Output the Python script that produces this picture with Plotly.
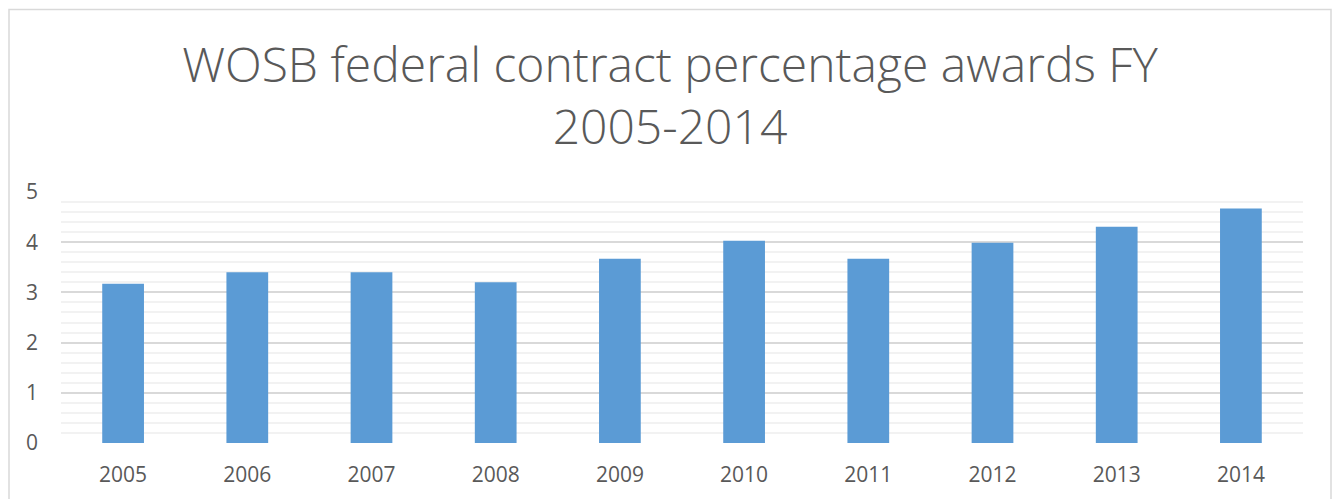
import plotly.graph_objects as go

# Fiscal years and WOSB share of federal contract awards (%)
years = ["2005", "2006", "2007", "2008", "2009", "2010", "2011", "2012", "2013", "2014"]
award_pct = [3.17, 3.40, 3.40, 3.20, 3.67, 4.03, 3.67, 3.99, 4.31, 4.67]
y_ticks = [0, 1, 2, 3, 4, 5]

W, H = 1335, 499
L, R, T, B = 61, 32, 192, 56
plot_w = W - L - R
plot_h = H - T - B

BAR = "#5B9BD5"
TEXT = "#595959"
MAJOR = "#D9D9D9"
MINOR = "#F2F2F2"

fig = go.Figure(
    go.Bar(
        x=years,
        y=award_pct,
        marker=dict(color=BAR, line=dict(width=0)),
        hoverinfo="x+y",
    )
)

# chart frame drawn in pixel terms, converted to paper coordinates
def px_x(p):
    return (p - L) / plot_w

def px_y(p):
    return (H - B - p) / plot_h

fig.add_shape(
    type="rect", xref="paper", yref="paper",
    x0=px_x(9), x1=px_x(1331), y0=px_y(520), y1=px_y(9.5),
    line=dict(color="#D9D9D9", width=1.5), fillcolor="rgba(0,0,0,0)", layer="below",
)

fig.update_layout(
    width=W, height=H,
    margin=dict(l=L, r=R, t=T, b=B, pad=0),
    paper_bgcolor="white", plot_bgcolor="white",
    bargap=0.664,
    showlegend=False,
    title=dict(
        text="WOSB federal contract percentage awards FY<br>2005-2014",
        x=670 / W, xref="container", xanchor="center",
        y=1 - 82 / H, yref="container", yanchor="top",
        font=dict(family="Open Sans", size=48, color=TEXT, weight=300),
    ),
    font=dict(family="Open Sans", color=TEXT),
    xaxis=dict(
        showgrid=False, zeroline=False, showline=False,
        ticks="", ticklabelstandoff=17,
        tickfont=dict(size=21, color=TEXT),
    ),
    yaxis=dict(
        range=[0, 5], tickvals=y_ticks, ticktext=[str(v) for v in y_ticks],
        showgrid=True, gridcolor=MAJOR, gridwidth=1.5,
        minor=dict(dtick=0.2, showgrid=True, gridcolor=MINOR, gridwidth=1.5),
        zeroline=False, showline=False, ticks="", ticklabelstandoff=22,
        tickfont=dict(size=21, color=TEXT),
    ),
)

fig.write_html("out.html")
